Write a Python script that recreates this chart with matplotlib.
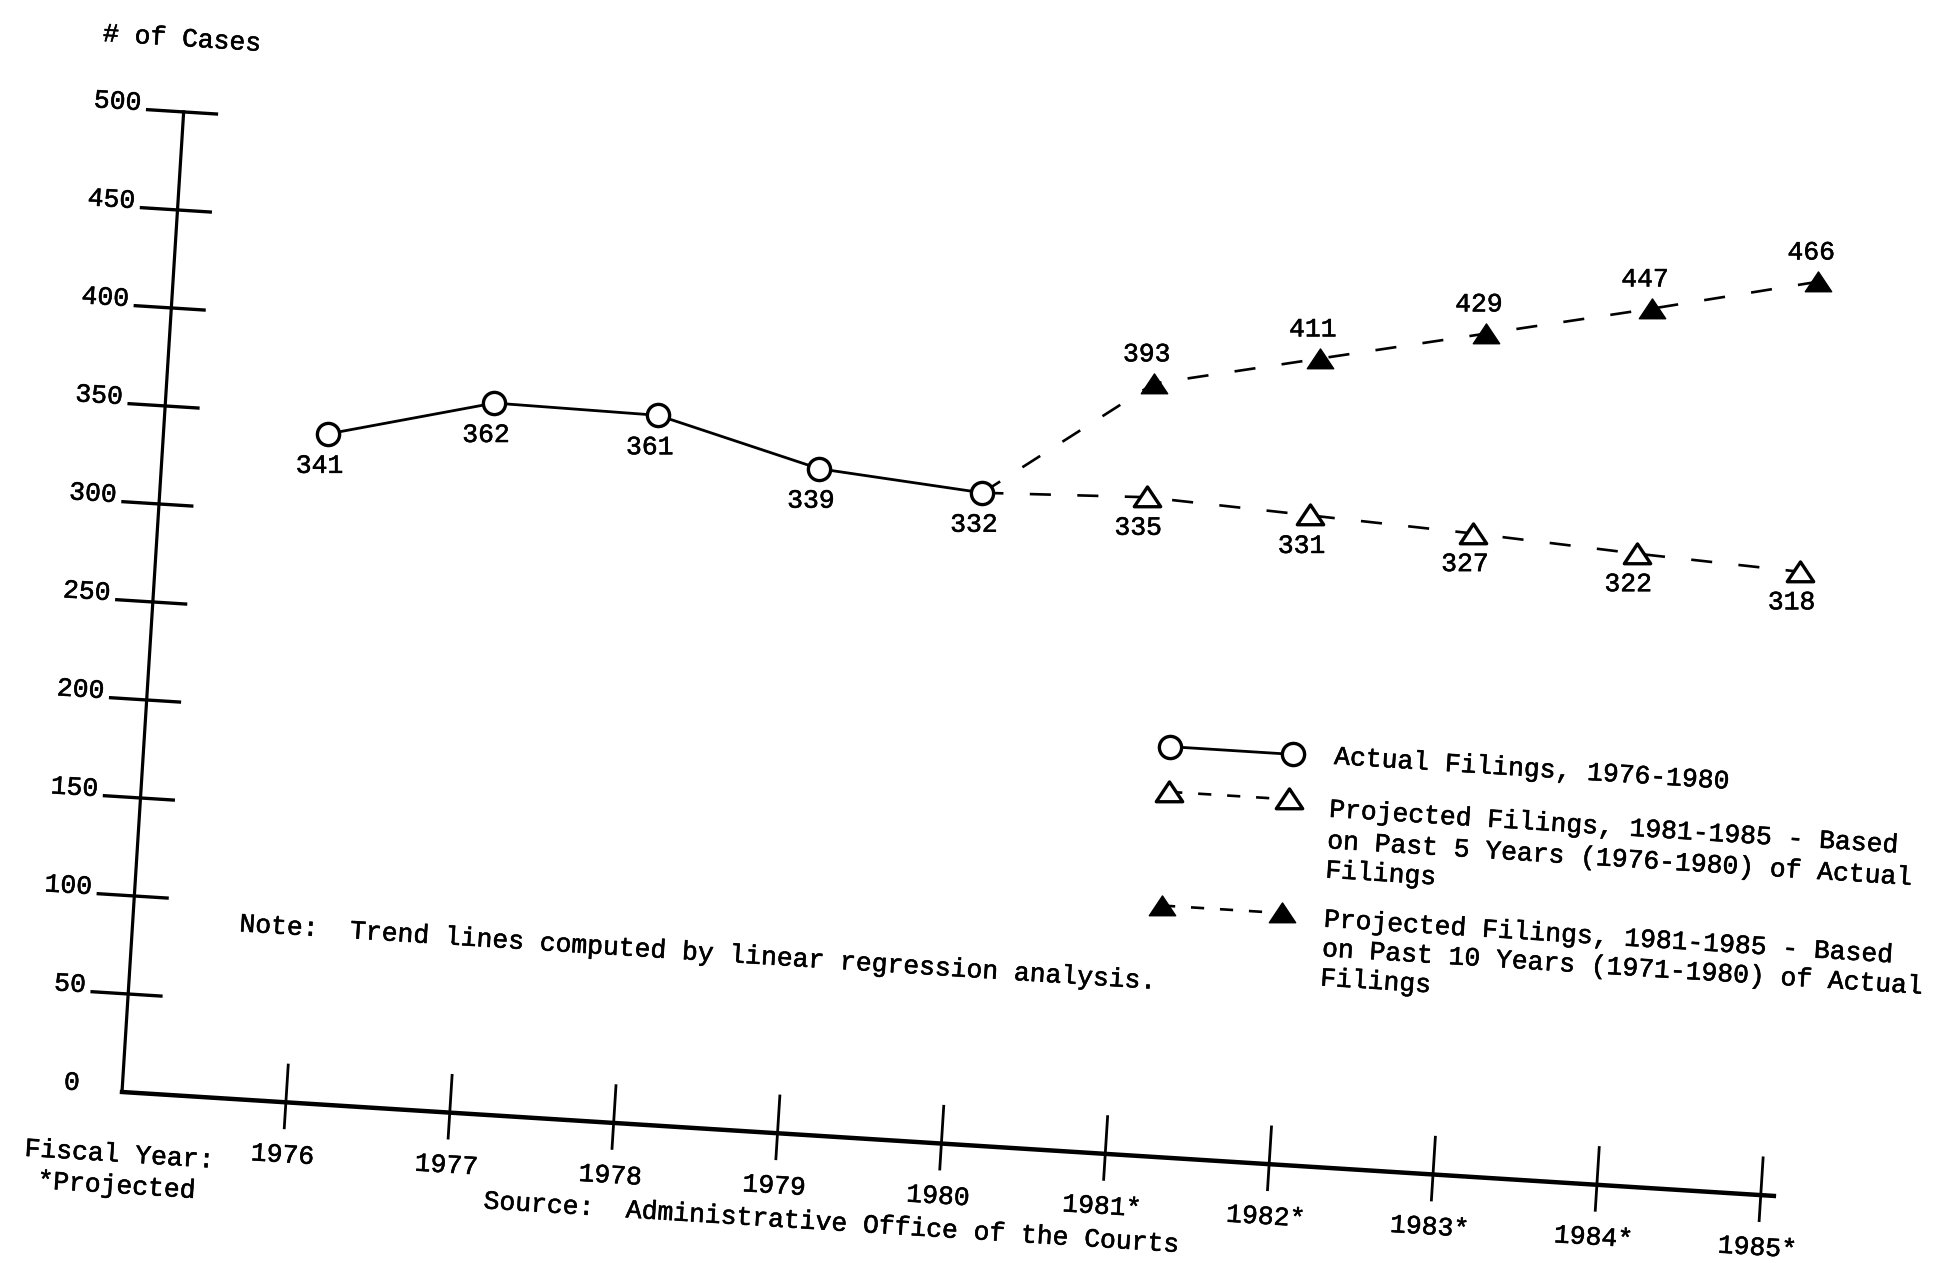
import matplotlib
matplotlib.use('Agg')
import matplotlib.pyplot as plt
import matplotlib.patheffects as pe
from matplotlib.path import Path
from matplotlib.transforms import Affine2D

# values as labelled on the chart
actual_years = [1976, 1977, 1978, 1979, 1980]
actual_cases = [341, 362, 361, 339, 332]
proj_years = [1981, 1982, 1983, 1984, 1985]
proj5_cases = [335, 331, 327, 322, 318]    # based on 1976-1980
proj10_cases = [393, 411, 429, 447, 466]   # based on 1971-1980
y_ticks = [0, 50, 100, 150, 200, 250, 300, 350, 400, 450, 500]
x_ticks = actual_years + proj_years
x_tick_labels = ['1976', '1977', '1978', '1979', '1980',
                 '1981*', '1982*', '1983*', '1984*', '1985*']

# page geometry (the scanned page is tilted a few degrees)
W, H = 1945, 1263
ox, oy = 122, 171          # origin in pixels
px_year = 164.2
px_case = 1.964
tilt = -3.6
fs = 19

plt.rcParams['font.family'] = ['Liberation Mono', 'DejaVu Sans Mono']
ink = [pe.withStroke(linewidth=0.4, foreground='black')]

# flat triangle like the typed chart
tri = Path([(-1, -0.7), (1, -0.7), (0, 0.8), (-1, -0.7)], closed=True)

fig = plt.figure(figsize=(W / 100, H / 100), dpi=100)
ax = fig.add_axes([0, 0, 1, 1])
ax.set_axis_off()
ax.set_xlim(1975 - ox / px_year, 1975 + (W - ox) / px_year)
ax.set_ylim(-oy / px_case, (H - oy) / px_case)
tr = ax.transData + Affine2D().rotate_deg_around(ox, oy, tilt)


def txt(x, y, s, **kw):
    kw.setdefault('ha', 'left')
    kw.setdefault('va', 'center')
    ax.text(x, y, s, transform=tr, rotation=tilt, rotation_mode='anchor',
            fontsize=fs, color='black', path_effects=ink, **kw)


# axes
ax.plot([1975, 1975], [0, 500], color='black', lw=2.3, transform=tr)
ax.plot([1975, 1985.08], [0, 0], color='black', lw=3.2, transform=tr)
for v in y_ticks[1:]:
    ax.plot([1975 - 0.22, 1975 + 0.2], [v, v], color='black', lw=2.4, transform=tr)
for v in y_ticks:
    txt(1975 - 0.26, v - 0.5, str(v), ha='right', va='baseline')
for yr, lab in zip(x_ticks, x_tick_labels):
    ax.plot([yr, yr], [-13, 19], color='black', lw=2, transform=tr)
    txt(yr, -27, lab, ha='center')

# projections start from the 1980 actual point
dash = (8, 10)
ax.plot([actual_years[-1]] + proj_years, [actual_cases[-1]] + proj5_cases,
        color='black', lw=1.9, dashes=dash, marker=tri, ms=19, mfc='white',
        mec='black', mew=2.4, markevery=list(range(1, 6)), transform=tr, zorder=2)
ax.plot([actual_years[-1]] + proj_years, [actual_cases[-1]] + proj10_cases,
        color='black', lw=1.9, dashes=dash, marker=tri, ms=19, mfc='black',
        mec='black', markevery=list(range(1, 6)), transform=tr, zorder=2)
ax.plot(actual_years, actual_cases, color='black', lw=2, marker='o', ms=16,
        mfc='white', mec='black', mew=2.4, transform=tr, zorder=3)

for yr, v in zip(actual_years, actual_cases):
    ax.annotate(str(v), (yr, v), xycoords=tr, xytext=(-6, -23), path_effects=ink,
                textcoords='offset points', ha='center', va='center', fontsize=fs)
for yr, v in zip(proj_years, proj5_cases):
    ax.annotate(str(v), (yr, v), xycoords=tr, xytext=(-6, -22), path_effects=ink,
                textcoords='offset points', ha='center', va='center', fontsize=fs)
for yr, v in zip(proj_years, proj10_cases):
    ax.annotate(str(v), (yr, v), xycoords=tr, xytext=(-5, 21), path_effects=ink,
                textcoords='offset points', ha='center', va='center', fontsize=fs)

# legend
ax.plot([1981.24, 1981.99], [209, 209], color='black', lw=2, marker='o', ms=16,
        mfc='white', mec='black', mew=2.4, transform=tr)
txt(1982.24, 209, 'Actual Filings, 1976-1980')
ax.plot([1981.25, 1981.98], [186, 186], color='black', lw=1.9, dashes=(5, 6),
        marker=tri, ms=19, mfc='white', mec='black', mew=2.4, transform=tr)
txt(1982.23, 182, 'Projected Filings, 1981-1985 - Based')
txt(1982.23, 166, 'on Past 5 Years (1976-1980) of Actual')
txt(1982.23, 151, 'Filings')
ax.plot([1981.25, 1981.98], [128, 128], color='black', lw=1.9, dashes=(5, 6),
        marker=tri, ms=19, mfc='black', mec='black', transform=tr)
txt(1982.24, 126, 'Projected Filings, 1981-1985 - Based')
txt(1982.24, 111, 'on Past 10 Years (1971-1980) of Actual')
txt(1982.24, 96, 'Filings')

# notes
txt(1974.48, 537, '# of Cases')
txt(1975.65, 89, 'Note:  Trend lines computed by linear regression analysis.')
txt(1974.43, -32, 'Fiscal Year:')
txt(1974.52, -48, '*Projected')
txt(1977.24, -44, 'Source:  Administrative Office of the Courts')

fig.savefig('out.png', dpi=100, facecolor='white')
